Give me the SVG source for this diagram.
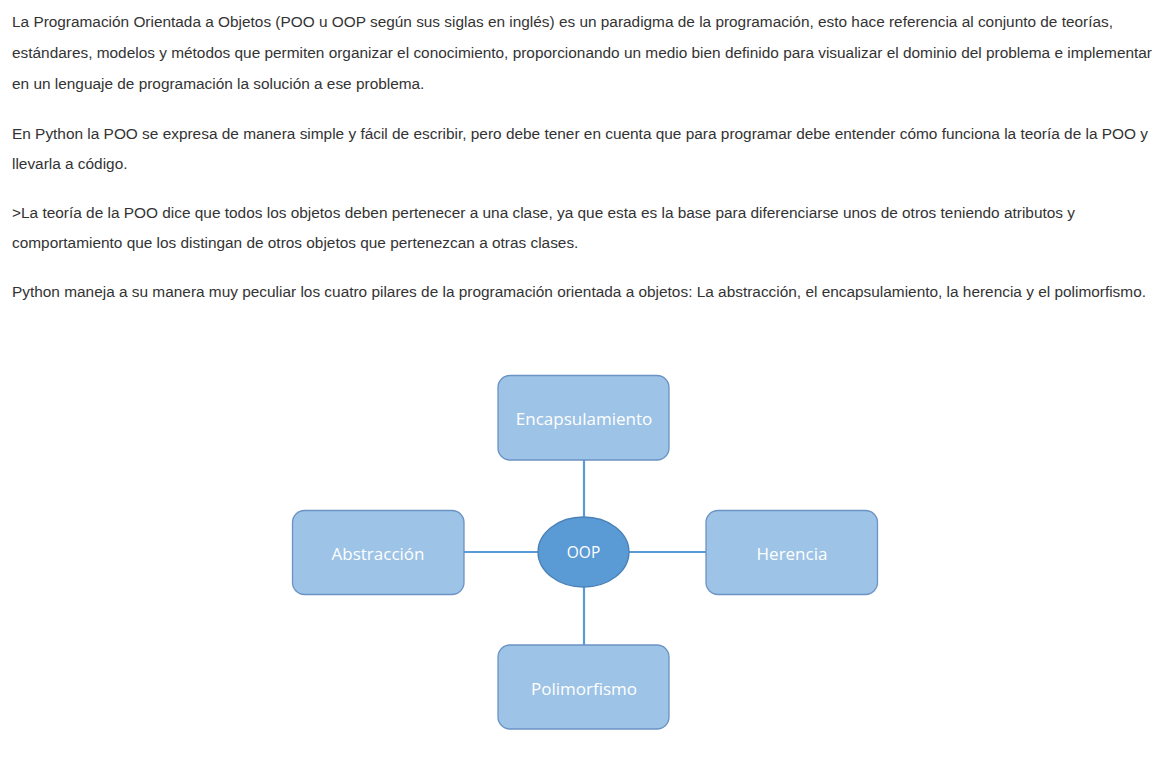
<svg xmlns="http://www.w3.org/2000/svg" width="1162" height="757" viewBox="0 0 1162 757">
<style>
.p{font-family:"Liberation Sans",Arial,sans-serif;font-size:15.4px;fill:#333333}
.box{fill:#9DC3E6;stroke:#6B93C3;stroke-width:1.3}
.ell{fill:#5B9BD5;stroke:#4A82B8;stroke-width:1.3}
.lbl{font-family:"Open Sans","Noto Sans",sans-serif;font-size:17px;fill:#ffffff;text-anchor:middle;dominant-baseline:central}
.conn{stroke:#5B9BD5;stroke-width:2.2;fill:none}
</style>
<rect width="1162" height="757" fill="#ffffff"/>
<g id="text">
<text class="p" x="12" y="27" textLength="1101" lengthAdjust="spacingAndGlyphs">La Programación Orientada a Objetos (POO u OOP según sus siglas en inglés) es un paradigma de la programación, esto hace referencia al conjunto de teorías,</text>
<text class="p" x="12" y="58" textLength="1140" lengthAdjust="spacingAndGlyphs">estándares, modelos y métodos que permiten organizar el conocimiento, proporcionando un medio bien definido para visualizar el dominio del problema e implementar</text>
<text class="p" x="12" y="89">en un lenguaje de programación la solución a ese problema.</text>
<text class="p" x="12" y="139" textLength="1136" lengthAdjust="spacingAndGlyphs">En Python la POO se expresa de manera simple y fácil de escribir, pero debe tener en cuenta que para programar debe entender cómo funciona la teoría de la POO y</text>
<text class="p" x="12" y="169">llevarla a código.</text>
<text class="p" x="12" y="218" textLength="1063" lengthAdjust="spacingAndGlyphs">&gt;La teoría de la POO dice que todos los objetos deben pertenecer a una clase, ya que esta es la base para diferenciarse unos de otros teniendo atributos y</text>
<text class="p" x="12" y="248">comportamiento que los distingan de otros objetos que pertenezcan a otras clases.</text>
<text class="p" x="12" y="297" textLength="1134" lengthAdjust="spacingAndGlyphs">Python maneja a su manera muy peculiar los cuatro pilares de la programación orientada a objetos: La abstracción, el encapsulamiento, la herencia y el polimorfismo.</text>
</g>
<g id="connectors">
<line class="conn" x1="584" y1="460" x2="584" y2="517"/>
<line class="conn" x1="584" y1="587" x2="584" y2="645"/>
<line class="conn" x1="464" y1="552" x2="538" y2="552"/>
<line class="conn" x1="629" y1="552" x2="706" y2="552"/>
</g>
<g id="encapsulamiento">
<rect class="box" x="498" y="375.5" width="171" height="84.5" rx="12"/>
<text class="lbl" x="584" y="418">Encapsulamiento</text>
</g>
<g id="abstraccion">
<rect class="box" x="292.5" y="510.5" width="171.5" height="84" rx="12"/>
<text class="lbl" x="378" y="553">Abstracción</text>
</g>
<g id="herencia">
<rect class="box" x="706" y="510.5" width="171.5" height="84" rx="12"/>
<text class="lbl" x="792" y="553">Herencia</text>
</g>
<g id="polimorfismo">
<rect class="box" x="498" y="645" width="171" height="84" rx="12"/>
<text class="lbl" x="584" y="688">Polimorfismo</text>
</g>
<g id="oop">
<ellipse class="ell" cx="583.5" cy="552" rx="45.5" ry="35"/>
<text class="lbl" x="583.5" y="552" style="font-size:15.5px">OOP</text>
</g>
</svg>
